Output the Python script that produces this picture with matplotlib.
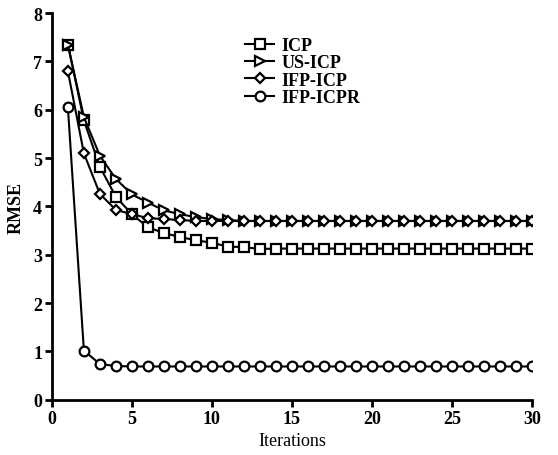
import numpy as np
import matplotlib.pyplot as plt

plt.rcParams['font.family'] = ['Liberation Serif', 'DejaVu Serif']

iters = np.arange(1, 31)
icp = [7.35, 5.78, 4.82, 4.2, 3.84, 3.57, 3.45, 3.37, 3.3, 3.25, 3.17, 3.16,
       3.12, 3.13, 3.13, 3.13, 3.13, 3.13, 3.13, 3.13, 3.13, 3.13, 3.13, 3.13,
       3.13, 3.13, 3.13, 3.13, 3.13, 3.13]
us_icp = [7.35, 5.85, 5.05, 4.57, 4.25, 4.08, 3.92, 3.84, 3.78, 3.74, 3.72, 3.7,
          3.7, 3.7, 3.7, 3.7, 3.7, 3.7, 3.7, 3.7, 3.7, 3.7, 3.7, 3.7,
          3.7, 3.7, 3.7, 3.7, 3.7, 3.7]
ifp_icp = [6.8, 5.1, 4.26, 3.93, 3.84, 3.76, 3.74, 3.72, 3.7, 3.7, 3.7, 3.7,
           3.7, 3.7, 3.7, 3.7, 3.7, 3.7, 3.7, 3.7, 3.7, 3.7, 3.7, 3.7,
           3.7, 3.7, 3.7, 3.7, 3.7, 3.7]
ifp_icpr = [6.05, 1.02, 0.74, 0.7, 0.69, 0.69, 0.69, 0.69, 0.69, 0.69, 0.69, 0.69,
            0.69, 0.69, 0.69, 0.69, 0.69, 0.69, 0.69, 0.69, 0.69, 0.69, 0.69, 0.69,
            0.69, 0.69, 0.69, 0.69, 0.69, 0.69]

series = [("ICP", icp, "s", 7), ("US-ICP", us_icp, ">", 7.5),
          ("IFP-ICP", ifp_icp, "D", 5), ("IFP-ICPR", ifp_icpr, "o", 7)]

fig = plt.figure(figsize=(5.58, 4.56), dpi=100)
ax = fig.add_axes([0.093, 0.121, 0.86, 0.848])

for name, vals, mk, ms in series:
    ax.plot(iters, vals, marker=mk, color="black", lw=1.5, ms=ms,
            mfc="white", mec="black", mew=1.6, label=name)

ax.set_xlim(0, 30)
ax.set_ylim(0, 8)
ax.set_xticks(range(0, 31, 5))
ax.set_yticks(range(0, 9))
ax.spines['top'].set_visible(False)
ax.spines['right'].set_visible(False)
for s in ['left', 'bottom']:
    ax.spines[s].set_linewidth(2)
ax.tick_params(direction='out', length=5, width=2, labelsize=13, pad=2)
for lbl in ax.get_xticklabels() + ax.get_yticklabels():
    lbl.set_fontweight('bold')
ax.set_xlabel("Iterations", fontsize=13, labelpad=4)
ax.set_ylabel("RMSE", fontsize=13, fontweight='bold', labelpad=6)

leg = ax.legend(loc="upper left", bbox_to_anchor=(0.3875, 0.957), frameon=False,
                prop={'size': 13, 'weight': 'bold'}, handlelength=1.6,
                handletextpad=0.4, labelspacing=0.02, borderaxespad=0)

fig.savefig("out.png", dpi=100)
